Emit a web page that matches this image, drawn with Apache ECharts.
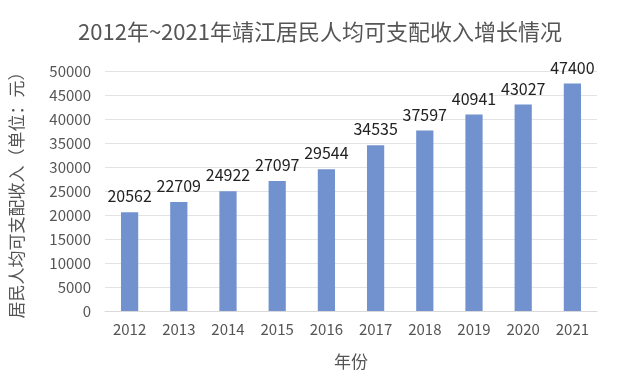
<!DOCTYPE html>
<html>
<head>
<meta charset="utf-8">
<script src="https://cdn.jsdelivr.net/npm/echarts@6/dist/echarts.min.js"></script>
<style>
  html, body { margin: 0; padding: 0; background: #fff; }
  #main { width: 640px; height: 378px; }
</style>
</head>
<body>
<div id="main"></div>
<script>
// 年份与人均可支配收入
var years = ['2012', '2013', '2014', '2015', '2016', '2017', '2018', '2019', '2020', '2021'];
var income = [20562, 22709, 24922, 27097, 29544, 34535, 37597, 40941, 43027, 47400];

var chart = echarts.init(document.getElementById('main'));
var font = '"Noto Sans CJK SC", "Open Sans", sans-serif';

chart.setOption({
  backgroundColor: '#fff',
  animation: false,
  title: {
    text: '2012年~2021年靖江居民人均可支配收入增长情况',
    left: 'center',
    top: 16,
    textStyle: { fontSize: 22, fontWeight: 'normal', color: '#555', fontFamily: font }
  },
  grid: { left: 103, right: 43, top: 71, bottom: 67 },
  xAxis: {
    type: 'category',
    data: years,
    name: '年份',
    nameLocation: 'middle',
    nameGap: 42,
    nameTextStyle: { fontSize: 17, color: '#555', fontFamily: font },
    axisLine: { lineStyle: { color: '#d9d9d9' } },
    axisTick: { show: false },
    axisLabel: { fontSize: 15, color: '#555', margin: 11, fontFamily: font }
  },
  yAxis: {
    type: 'value',
    min: 0,
    max: 50000,
    interval: 5000,
    name: '居民人均可支配收入（单位：元）',
    nameLocation: 'middle',
    nameGap: 80,
    nameTextStyle: { fontSize: 17, color: '#555', fontFamily: font },
    axisLine: { show: false },
    axisTick: { show: false },
    axisLabel: {
      fontSize: 15, color: '#555', margin: 14, fontFamily: font,
      formatter: function (v) { return String(v); }
    },
    splitLine: { lineStyle: { color: '#e3e3e3' } }
  },
  series: [{
    type: 'bar',
    data: income,
    barWidth: '35%',
    itemStyle: { color: '#7192cf' },
    label: {
      show: true,
      position: 'top',
      distance: 8,
      fontSize: 16,
      color: '#222',
      fontFamily: font
    }
  }]
});
</script>
</body>
</html>
